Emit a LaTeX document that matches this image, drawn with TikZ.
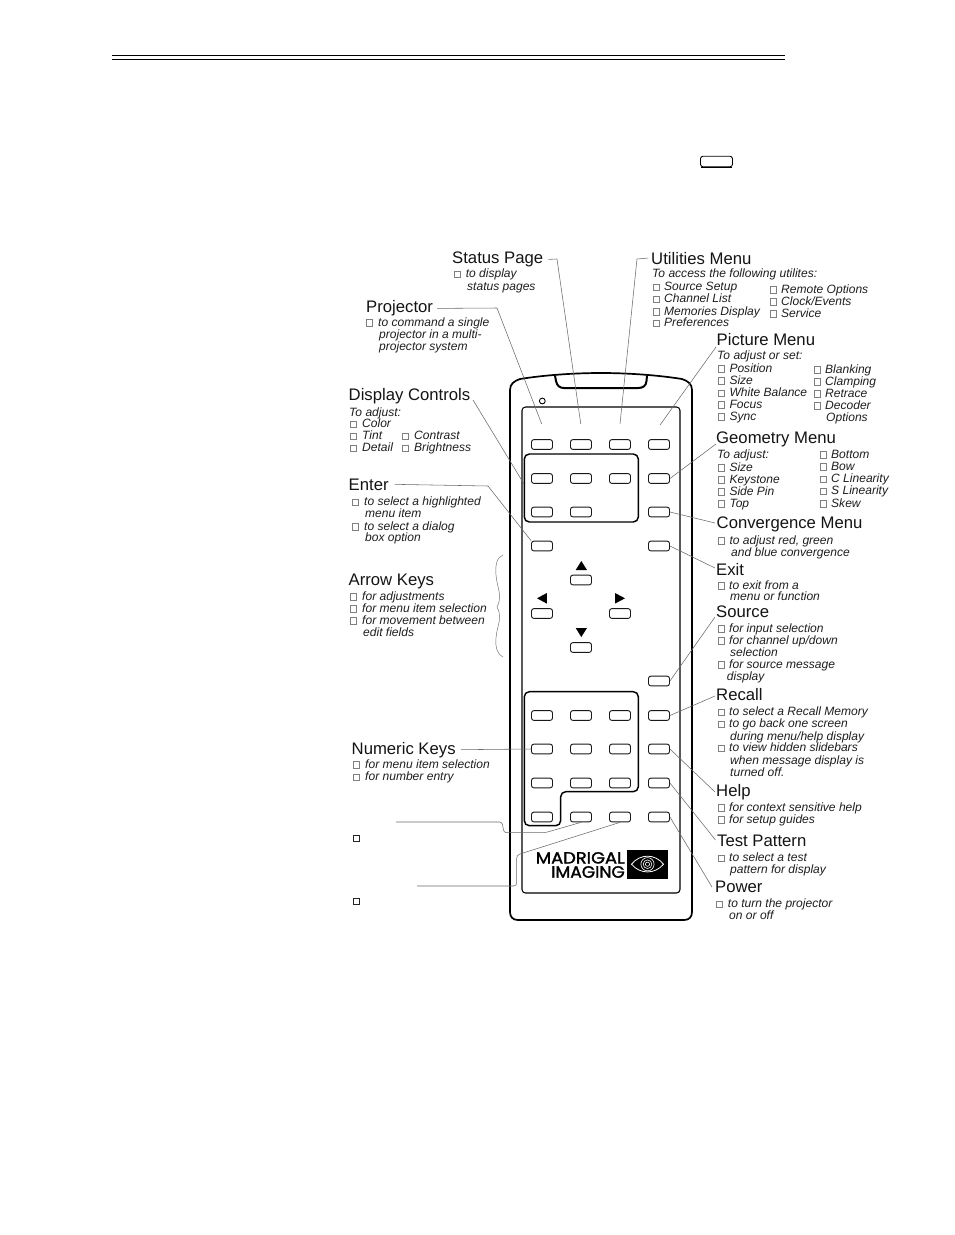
\documentclass[tikz,border=0pt]{standalone}
\usepackage{fontspec}
\usepackage{graphicx}
\setmainfont{Liberation Sans}
\newfontfamily\logofont[FakeBold=1.6]{Poppins}
\newcounter{nn}
\tikzset{
  x=1pt,y=-1pt,
  keybtn/.style={draw=black!90,line width=0.9pt,rounded corners=2.4pt,minimum width=21pt,minimum height=9.8pt,inner sep=0pt,fill=white},
  titletxt/.style={anchor=base west,inner sep=0pt,font=\fontsize{16.7}{18}\selectfont,text=black!92},
  bodytxt/.style={anchor=base west,inner sep=0pt,font=\fontsize{12.05}{12}\selectfont\itshape,text=black!88},
  chkbox/.style={anchor=south west,inner sep=0pt,draw=black!50,line width=0.3pt,minimum width=6pt,minimum height=6.6pt},
  leader/.style={draw=black!58,line width=0.55pt},
  groupbox/.style={draw=black,line width=1.45pt,rounded corners=5pt},
  tri/.style={fill=black,draw=none},
}
% text line
\newcommand{\tl}[3]{\stepcounter{nn}\node[bodytxt] (t\arabic{nn}) at (#1,#2) {#3};}
% checked line: box x, text x, baseline, text
\newcommand{\cl}[4]{\stepcounter{nn}\node[chkbox] (c\arabic{nn}) at (#1,#3) {};\node[bodytxt] (t\arabic{nn}) at (#2,#3) {#4};}
\begin{document}
\begin{tikzpicture}
\useasboundingbox (0,0) rectangle (954,1235);
\fill[white] (0,0) rectangle (954,1235);
% header rules
\coordinate (ra) at (112,55.5); \coordinate (rb) at (785,55.5);
\coordinate (rc) at (112,59.5); \coordinate (rd) at (785,59.5);
\draw[line width=1.3pt] (ra) -- (rb);
\draw[line width=0.9pt] (rc) -- (rd);
\node[draw=black,line width=0.9pt,rounded corners=2.5pt,minimum width=32pt,minimum height=10.5pt,inner sep=0pt] (smallkey) at (716.5,161.5) {};
\coordinate (sk1) at (701,167.2); \coordinate (sk2) at (732,167.2);
\draw[line width=1.3pt] (sk1) -- (sk2);

% remote body
\draw[line width=1.7pt,line join=round] (510,396) -- (510,390) .. controls (510,384) and (514,381) .. (520,379)
  .. controls (545,375) and (575,373) .. (601,373) .. controls (627,373) and (657,375) .. (682,379)
  .. controls (688,381) and (692,384) .. (692,390) -- (692,912) .. controls (692,917) and (689,920) .. (684,920)
  -- (518,920) .. controls (513,920) and (510,917) .. (510,912) -- cycle;
\draw[line width=2pt] (555,375.5) -- (556,381) .. controls (557,386) and (560,388) .. (564,388)
  -- (638,388) .. controls (643,388) and (646,386) .. (646.5,381) -- (647,375.5);
\node[draw=black,line width=0.9pt,circle,minimum size=5.8pt,inner sep=0pt] (led) at (542.3,401) {};
\draw[line width=1.05pt,rounded corners=3.5pt] (522,407) rectangle (680,893);

% key groups
\draw[groupbox] (524.3,454) rectangle (638.3,522);
\draw[groupbox] (524.3,691.7) -- (638.3,691.7) -- (638.3,791.7) -- (560.7,791.7) -- (560.7,825.7) -- (524.3,825.7) -- cycle;

% keys
\foreach \nm/\cx/\cy in {
 a1/542/444.5,a2/581/444.5,a3/620/444.5,a4/659/444.5,
 b1/542/478.5,b2/581/478.5,b3/620/478.5,b4/659/478.5,
 c1/542/512,c2/581/512,c4/659/512,
 d1/542/546,d4/659/546,
 up/581/580,lf/542/613.5,rt/620/613.5,dn/581/647.5,
 src/659/681,
 n1/542/715.5,n2/581/715.5,n3/620/715.5,n4/659/715.5,
 o1/542/749,o2/581/749,o3/620/749,o4/659/749,
 p1/542/783,p2/581/783,p3/620/783,p4/659/783,
 q1/542/817,q2/581/817,q3/620/817,q4/659/817}
  \node[keybtn] (\nm) at (\cx,\cy) {};

% arrow triangles
\fill[tri] (581.3,561) -- (587,570) -- (575.7,570) -- cycle;
\fill[tri] (537,598.3) -- (546.8,593) -- (546.8,603.6) -- cycle;
\fill[tri] (625,598.3) -- (615,593) -- (615,603.6) -- cycle;
\fill[tri] (581.3,637) -- (587,628) -- (575.7,628) -- cycle;

% logo
\node[inner sep=0pt,anchor=south east] (logoa) at (625,863.8) {\resizebox{89pt}{11.4pt}{\logofont MADRIGAL}};
\node[inner sep=0pt,anchor=south east] (logob) at (625,878) {\resizebox{73.5pt}{11.6pt}{\logofont IMAGING}};
\fill[black] (626.7,850) rectangle (668.3,878.5);
\draw[white,line width=0.8pt,fill=black] (631.5,864.2) .. controls (640,853.5) and (655,853.5) .. (663.5,864.2) .. controls (655,874.5) and (640,874.5) .. (631.5,864.2) -- cycle;
\draw[white,line width=0.6pt] (647.5,864.2) circle (6.6pt);
\draw[white,line width=0.6pt] (647.5,864.2) circle (4.3pt);
\draw[white,line width=0.6pt] (647.5,864.2) circle (2.1pt);

% titles
\node[titletxt] (status) at (452,263.5) {Status Page};
\node[titletxt] (util) at (651,264) {Utilities Menu};
\node[titletxt] (proj) at (366,312.7) {Projector};
\node[titletxt] (picm) at (716.5,345) {Picture Menu};
\node[titletxt] (disp) at (348.5,400.7) {Display Controls};
\node[titletxt] (geom) at (716,443.3) {Geometry Menu};
\node[titletxt] (enter) at (348.5,490) {Enter};
\node[titletxt] (conv) at (716.5,528.3) {Convergence Menu};
\node[titletxt] (exit) at (716,575) {Exit};
\node[titletxt] (arrowk) at (348.5,585) {Arrow Keys};
\node[titletxt] (source) at (716,617.3) {Source};
\node[titletxt] (recall) at (716,700.7) {Recall};
\node[titletxt] (numk) at (351.5,754) {Numeric Keys};
\node[titletxt] (help) at (716,796.7) {Help};
\node[titletxt] (test) at (717,846.7) {Test Pattern};
\node[titletxt] (power) at (715,892.7) {Power};

% left texts
\cl{454.3}{465.6}{277.7}{to display}
\tl{467}{290}{status pages}
\cl{366}{378}{326}{to command a single}
\tl{379}{338}{projector in a multi-}
\tl{379}{350}{projector system}
\tl{349}{416}{To adjust:}
\cl{349.5}{362}{427.7}{Color}
\cl{349.5}{362}{439.5}{Tint}
\cl{349.5}{362}{451.5}{Detail}
\cl{402}{414}{439.5}{Contrast}
\cl{402}{414}{451.5}{Brightness}
\cl{352}{364}{505.7}{to select a highlighted}
\tl{365}{517.5}{menu item}
\cl{352}{364}{530}{to select a dialog}
\tl{365}{541.7}{box option}
\cl{349.5}{362}{600}{for adjustments}
\cl{349.5}{362}{612}{for menu item selection}
\cl{349.5}{362}{624.3}{for movement between}
\tl{363}{636}{edit fields}
\cl{352.5}{365}{768}{for menu item selection}
\cl{352.5}{365}{780.7}{for number entry}

% right texts
\tl{652}{277.7}{To access the following utilites:}
\cl{652.5}{664}{290.7}{Source Setup}
\cl{652.5}{664}{302.7}{Channel List}
\cl{652.5}{664}{315}{Memories Display}
\cl{652.5}{664}{326.7}{Preferences}
\cl{769.5}{781}{293.3}{Remote Options}
\cl{769.5}{781}{305.2}{Clock/Events}
\cl{769.5}{781}{317.3}{Service}
\tl{717}{359.3}{To adjust or set:}
\cl{717.5}{729.3}{372.3}{Position}
\cl{717.5}{729.3}{384.3}{Size}
\cl{717.5}{729.3}{396.7}{White Balance}
\cl{717.5}{729.3}{408.3}{Focus}
\cl{717.5}{729.3}{420}{Sync}
\cl{813.5}{825}{373}{Blanking}
\cl{813.5}{825}{385}{Clamping}
\cl{813.5}{825}{397}{Retrace}
\cl{813.5}{825}{409}{Decoder}
\tl{826}{421}{Options}
\tl{717}{458.3}{To adjust:}
\cl{717.5}{729.3}{471}{Size}
\cl{717.5}{729.3}{483}{Keystone}
\cl{717.5}{729.3}{495}{Side Pin}
\cl{717.5}{729.3}{507}{Top}
\cl{820}{831}{458.3}{Bottom}
\cl{820}{831}{470.3}{Bow}
\cl{820}{831}{482.5}{C Linearity}
\cl{820}{831}{494.5}{S Linearity}
\cl{820}{831}{507}{Skew}
\cl{717.5}{729.3}{544}{to adjust red, green}
\tl{731}{556}{and blue convergence}
\cl{717.5}{729}{589}{to exit from a}
\tl{730}{600.7}{menu or function}
\cl{717.5}{729}{632}{for input selection}
\cl{717.5}{729}{644}{for channel up/down}
\tl{730}{656}{selection}
\cl{717.5}{729}{668.3}{for source message}
\tl{726.7}{680}{display}
\cl{717.5}{729}{715.7}{to select a Recall Memory}
\cl{717.5}{729}{727.7}{to go back one screen}
\tl{730}{740}{during menu/help display}
\cl{717.5}{729}{751.7}{to view hidden slidebars}
\tl{730}{764}{when message display is}
\tl{730}{776}{turned off.}
\cl{717.5}{729}{811}{for context sensitive help}
\cl{717.5}{729}{823.3}{for setup guides}
\cl{717.5}{729}{861.7}{to select a test}
\tl{730}{873.3}{pattern for display}
\cl{716}{727.7}{907.7}{to turn the projector}
\tl{729}{919.3}{on or off}

% two blank-label squares
\node[draw=black!85,line width=0.8pt,minimum width=6pt,minimum height=6pt,inner sep=0pt] (sq1) at (356.7,838.3) {};
\node[draw=black!85,line width=0.8pt,minimum width=6pt,minimum height=6pt,inner sep=0pt] (sq2) at (356.7,901.5) {};

% leaders
\coordinate (stE) at (557,259); \coordinate (stT) at (580.8,424);
\draw[leader] ([xshift=5pt]status.east) -- (stE) -- (stT);
\coordinate (utE) at (637,259); \coordinate (utT) at (620,424);
\draw[leader] ([xshift=-3pt]util.west) -- (utE) -- (utT);
\coordinate (prE) at (497,308); \coordinate (prT) at (541.7,424);
\draw[leader] ([xshift=4pt]proj.east) -- (prE) -- (prT);
\coordinate (diS) at (473,400); \coordinate (diT) at (524,484);
\draw[leader] (diS) -- (diT);
\coordinate (enE) at (488,486);
\draw[leader] ([xshift=6pt]enter.east) -- (enE) -- (d1.north west);
\draw[leader] ([xshift=5pt]numk.east) -- (o1.west);
\coordinate (piS) at (716,347); \coordinate (piT) at (660,425);
\draw[leader] (piS) -- (piT);
\coordinate (geS) at (716,444);
\draw[leader] (geS) -- (b4.east);
\coordinate (coS) at (715,523);
\draw[leader] (c4.east) -- (coS);
\coordinate (exS) at (715,568);
\draw[leader] (d4.east) -- (exS);
\coordinate (soS) at (715,617);
\draw[leader] (soS) -- (src.east);
\coordinate (reS) at (715,696);
\draw[leader] (reS) -- (n4.east);
\coordinate (heS) at (715,792);
\draw[leader] (o4.east) -- (heS);
\coordinate (teS) at (715.5,840);
\draw[leader] (p4.east) -- (teS);
\coordinate (poS) at (712,887);
\draw[leader] (q4.east) -- (poS);
\coordinate (loA) at (396,822); \coordinate (loB) at (545,832.7);
\draw[leader,rounded corners=2.5pt] (loA) -- (502,822) -- (504,832.7) -- (loB) -- (q2.south);
\coordinate (loC) at (417,886); \coordinate (loD) at (516.7,855);
\draw[leader,rounded corners=3pt] (loC) -- (516.7,886) -- (loD) -- (q3.south);
% brace
\coordinate (brT) at (503,555); \coordinate (brM) at (497,607); \coordinate (brB) at (503,657);
\draw[leader,line width=0.45pt] (brT) .. controls (497,557) and (495,565) .. (496,575)
  .. controls (497,588) and (503,596) .. (brM)
  .. controls (503,618) and (497,625) .. (496,638) .. controls (495,648) and (498,655) .. (brB);
\end{tikzpicture}
\end{document}
